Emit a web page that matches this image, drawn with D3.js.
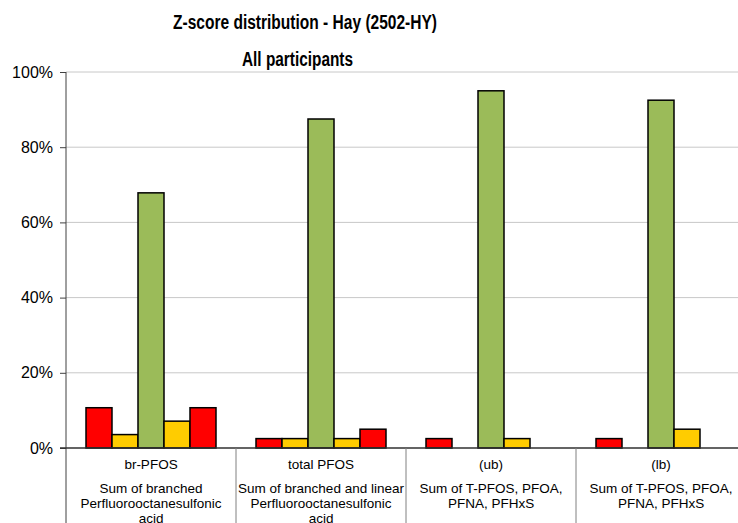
<!DOCTYPE html>
<html>
<head>
<meta charset="utf-8">
<script src="https://cdn.jsdelivr.net/npm/d3@7"></script>
<style>
  html, body { margin: 0; padding: 0; background: #fff; }
  svg { display: block; font-family: "Liberation Sans", Arial, sans-serif; }
</style>
</head>
<body>
<svg id="chart" width="738" height="523"></svg>
<script>
// Compound names and their descriptions (one entry per wrapped line)
const categories = ["br-PFOS", "total PFOS", "(ub)", "(lb)"];
const descriptions = [
  ["Sum of branched", "Perfluorooctanesulfonic", "acid"],
  ["Sum of branched and linear", "Perfluorooctanesulfonic", "acid"],
  ["Sum of T-PFOS, PFOA,", "PFNA, PFHxS"],
  ["Sum of T-PFOS, PFOA,", "PFNA, PFHxS"]
];

// Z-score classes, in bar order within each group
const zClasses = ["z <= -3", "-3 < z <= -2", "|z| <= 2", "2 < z < 3", "z >= 3"];
const zColors = ["#ff0000", "#ffcc00", "#9bbb59", "#ffcc00", "#ff0000"];

// Percentage of participants in each z-score class, per compound
const pctBrPFOS    = [10.71, 3.57, 67.86, 7.14, 10.71];
const pctTotalPFOS = [2.5, 2.5, 87.5, 2.5, 5.0];
const pctSumUb     = [2.5, 0, 95.0, 2.5, 0];
const pctSumLb     = [2.5, 0, 92.5, 5.0, 0];
const seriesByCategory = [pctBrPFOS, pctTotalPFOS, pctSumUb, pctSumLb];

const yTicks = [0, 20, 40, 60, 80, 100];

const svg = d3.select("#chart");
const plotLeft = 66, plotTop = 72, plotBottom = 448, catWidth = 170;

const x0 = d3.scaleBand()
  .domain(categories)
  .range([plotLeft, plotLeft + catWidth * categories.length])
  .paddingInner(0).paddingOuter(0);

const x1 = d3.scaleBand()
  .domain(d3.range(zClasses.length))
  .range([0, x0.bandwidth()])
  .paddingInner(0)
  .paddingOuter(20 / 26);

const y = d3.scaleLinear().domain([0, 100]).range([plotBottom, plotTop]);

// Title (set in a condensed bold face)
svg.append("text")
  .attr("x", 305).attr("y", 28.5)
  .attr("text-anchor", "middle")
  .attr("font-size", 20).attr("font-weight", "bold")
  .attr("textLength", 264).attr("lengthAdjust", "spacingAndGlyphs")
  .attr("fill", "#000")
  .text("Z-score distribution - Hay (2502-HY)");

svg.append("text")
  .attr("x", 297.5).attr("y", 66)
  .attr("text-anchor", "middle")
  .attr("font-size", 20).attr("font-weight", "bold")
  .attr("textLength", 111).attr("lengthAdjust", "spacingAndGlyphs")
  .attr("fill", "#000")
  .text("All participants");

// Gridlines
svg.append("g")
  .selectAll("line")
  .data(yTicks.filter(d => d > 0))
  .join("line")
  .attr("x1", plotLeft).attr("x2", 738)
  .attr("y1", d => y(d)).attr("y2", d => y(d))
  .attr("stroke", "#c8c8c8").attr("stroke-width", 1);

// Y axis
const yAxis = svg.append("g")
  .attr("transform", `translate(${plotLeft},0)`)
  .call(d3.axisLeft(y).tickValues(yTicks).tickFormat(d => d + "%").tickSize(6).tickSizeOuter(0));
yAxis.select(".domain").remove();
yAxis.selectAll(".tick line").attr("stroke", "#404040");
yAxis.selectAll(".tick text")
  .attr("font-size", 16).attr("fill", "#000")
  .attr("font-family", "Liberation Sans, Arial, sans-serif")
  .attr("x", -13);

svg.append("line")
  .attr("x1", plotLeft).attr("x2", plotLeft)
  .attr("y1", plotTop).attr("y2", 523)
  .attr("stroke", "#404040").attr("stroke-width", 1);

// Bars
const groups = svg.append("g")
  .selectAll("g")
  .data(categories)
  .join("g")
  .attr("transform", d => `translate(${x0(d)},0)`);

groups.selectAll("rect")
  .data((d, i) => seriesByCategory[i].map((v, j) => ({ v, j })).filter(e => e.v > 0))
  .join("rect")
  .attr("x", e => x1(e.j))
  .attr("width", x1.bandwidth())
  .attr("y", e => y(e.v))
  .attr("height", e => plotBottom - y(e.v))
  .attr("fill", e => zColors[e.j])
  .attr("stroke", "#000").attr("stroke-width", 1.5);

// Category axis line and separators
svg.append("line")
  .attr("x1", plotLeft - 6).attr("x2", 738)
  .attr("y1", plotBottom).attr("y2", plotBottom)
  .attr("stroke", "#303030").attr("stroke-width", 1.5);

svg.append("g")
  .selectAll("line")
  .data(categories.slice(1))
  .join("line")
  .attr("x1", d => x0(d)).attr("x2", d => x0(d))
  .attr("y1", plotBottom).attr("y2", 523)
  .attr("stroke", "#808080").attr("stroke-width", 1);

// Category labels
const labels = svg.append("g")
  .selectAll("g")
  .data(categories)
  .join("g")
  .attr("transform", d => `translate(${x0(d) + x0.bandwidth() / 2},0)`)
  .attr("text-anchor", "middle")
  .attr("font-size", 13.5)
  .attr("fill", "#000");

labels.append("text")
  .attr("y", 469)
  .text(d => d);

labels.each(function (d, i) {
  d3.select(this).selectAll("text.desc")
    .data(descriptions[i])
    .join("text")
    .attr("class", "desc")
    .attr("y", (t, k) => 493 + k * 15)
    .text(t => t);
});
</script>
</body>
</html>
